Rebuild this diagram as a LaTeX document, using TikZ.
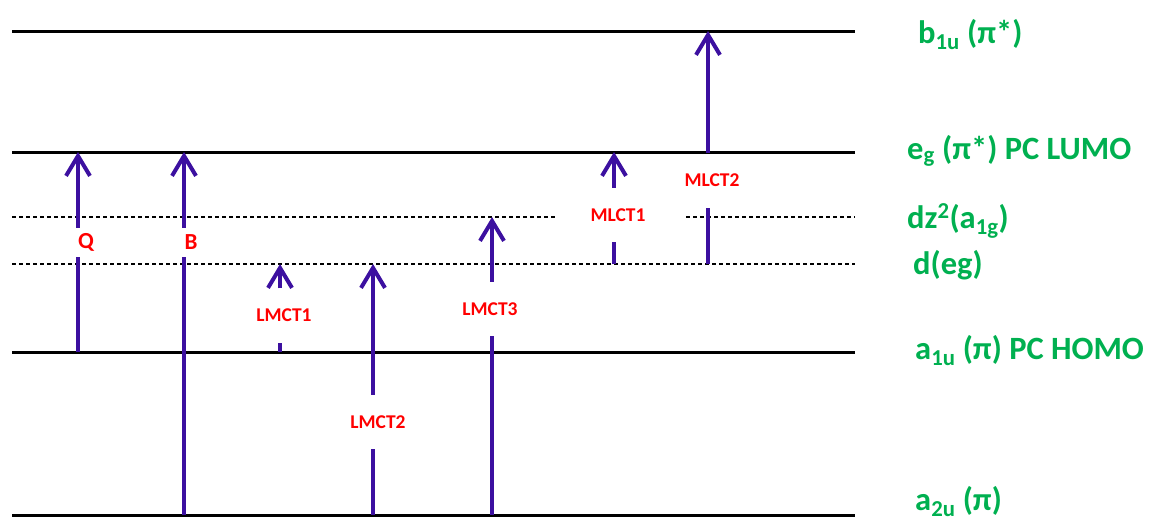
\documentclass[tikz,border=0pt]{standalone}
\usepackage{fontspec}
\setmainfont{Carlito}
\usetikzlibrary{arrows.meta}
\definecolor{levelgreen}{RGB}{0,176,80}
\definecolor{arrowpurple}{RGB}{60,16,160}
\begin{document}
\begin{tikzpicture}[x=1pt, y=-1pt]

    \tikzstyle{level} = [line width=3pt, black]
    \tikzstyle{dlevel} = [line width=1.1pt, black, dash pattern=on 4pt off 3pt]
    \tikzstyle{orbital} = [anchor=base west, text=levelgreen, font=\bfseries\fontsize{32.5}{36}\selectfont, inner sep=0pt]
    \tikzstyle{band} = [text=red, font=\bfseries\fontsize{23}{26}\selectfont, inner sep=0pt, minimum height=29pt]
    \tikzstyle{ct} = [text=red, font=\bfseries\fontsize{19.5}{22}\selectfont, inner sep=0pt, minimum height=54pt]
    \tikzstyle{line} = [line width=4pt, arrowpurple]
    \tikzstyle{arrow} = [line, -{Straight Barb[length=20pt, width=24pt]}]

    \useasboundingbox (0,0) rectangle (1150,522);

    % energy levels
    \coordinate (boneL) at (12,31);    \coordinate (boneR) at (855,31);
    \coordinate (egL) at (12,152);     \coordinate (egR) at (855,152);
    \coordinate (dzL) at (12,217);     \coordinate (dzM) at (556,217);
    \coordinate (dzN) at (686,217);    \coordinate (dzR) at (855,217);
    \coordinate (degL) at (12,264);    \coordinate (degR) at (855,264);
    \coordinate (aoneL) at (12,352);   \coordinate (aoneR) at (855,352);
    \coordinate (atwoL) at (12,515);   \coordinate (atwoR) at (855,515);

    \draw[level] (boneL) -- (boneR);
    \draw[level] (egL) -- (egR);
    \draw[dlevel] (dzL) -- (dzM);
    \draw[dlevel] (dzN) -- (dzR);
    \draw[dlevel] (degL) -- (degR);
    \draw[level] (aoneL) -- (aoneR);
    \draw[level] (atwoL) -- (atwoR);

    \node[orbital] (bone) at (918,43) {b\textsubscript{1u} (π*)};
    \node[orbital] (eg) at (907,159) {e\textsubscript{g} (π*) PC LUMO};
    \node[orbital] (dz) at (907,228) {dz\textsuperscript{2}(a\textsubscript{1g})};
    \node[orbital] (deg) at (913,274) {d(eg)};
    \node[orbital] (aone) at (915,359) {a\textsubscript{1u} (π) PC HOMO};
    \node[orbital] (atwo) at (915,510) {a\textsubscript{2u} (π)};

    % transitions
    \coordinate (qlow) at (78,352);
    \coordinate (qhigh) at (78,152);
    \node[band] (q) at (86,242.5) {Q};
    \draw[line] (qlow) -- (qlow |- q.south);
    \draw[arrow] (qlow |- q.north) -- (qhigh);

    \coordinate (blow) at (184,515);
    \coordinate (bhigh) at (184,152);
    \node[band] (b) at (191,242.5) {B};
    \draw[line] (blow) -- (blow |- b.south);
    \draw[arrow] (blow |- b.north) -- (bhigh);

    \coordinate (lmctonelow) at (280,352);
    \coordinate (lmctonehigh) at (280,264);
    \node[ct] (lmctone) at (284,315.5) {LMCT1};
    \draw[line] (lmctonelow) -- (lmctonelow |- lmctone.south);
    \draw[arrow] (lmctonelow |- lmctone.north) -- (lmctonehigh);

    \coordinate (lmcttwolow) at (373,515);
    \coordinate (lmcttwohigh) at (373,264);
    \node[ct] (lmcttwo) at (378,422) {LMCT2};
    \draw[line] (lmcttwolow) -- (lmcttwolow |- lmcttwo.south);
    \draw[arrow] (lmcttwolow |- lmcttwo.north) -- (lmcttwohigh);

    \coordinate (lmctthreelow) at (492,515);
    \coordinate (lmctthreehigh) at (492,217);
    \node[ct] (lmctthree) at (490,309) {LMCT3};
    \draw[line] (lmctthreelow) -- (lmctthreelow |- lmctthree.south);
    \draw[arrow] (lmctthreelow |- lmctthree.north) -- (lmctthreehigh);

    \coordinate (mlctonelow) at (614,264);
    \coordinate (mlctonehigh) at (614,152);
    \node[ct] (mlctone) at (618,215) {MLCT1};
    \draw[line] (mlctonelow) -- (mlctonelow |- mlctone.south);
    \draw[arrow] (mlctonelow |- mlctone.north) -- (mlctonehigh);

    \coordinate (mlcttwolow) at (708,264);
    \coordinate (mlcttwohigh) at (708,31);
    \node[ct] (mlcttwo) at (712,180.5) {MLCT2};
    \draw[line] (mlcttwolow) -- (mlcttwolow |- mlcttwo.south);
    \draw[arrow] (mlcttwolow |- mlcttwo.north) -- (mlcttwohigh);

\end{tikzpicture}
\end{document}
